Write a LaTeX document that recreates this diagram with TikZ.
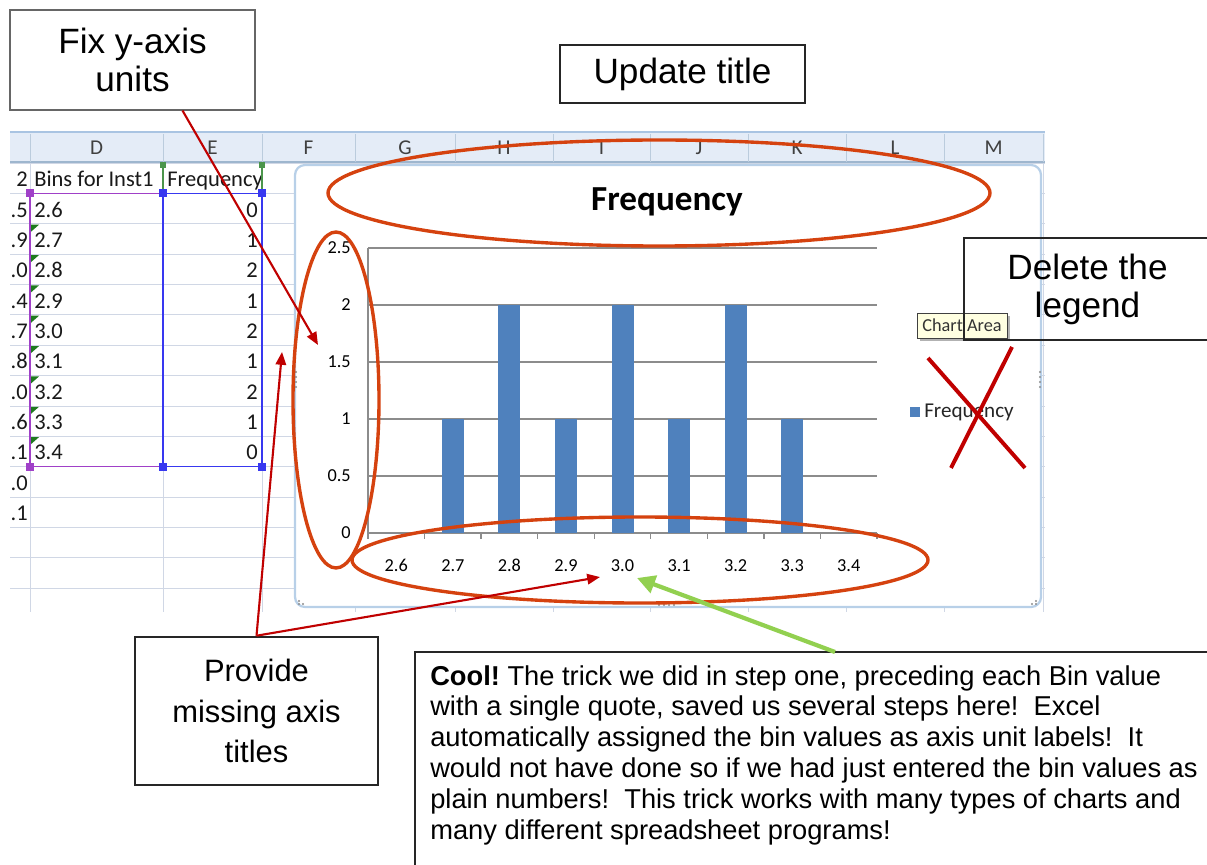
\documentclass[tikz,border=0pt]{standalone}
\usepackage{fontspec}
\setmainfont{Liberation Sans}
\newfontfamily\sheetfont{Carlito}
\usetikzlibrary{arrows.meta,positioning,calc}
\definecolor{arrowred}{HTML}{C00000}
\definecolor{ringred}{HTML}{D5420F}
\definecolor{tipgreen}{HTML}{92D050}
\definecolor{barblue}{HTML}{4F81BD}
\definecolor{cellgrid}{HTML}{D0D7E5}
\definecolor{headfill}{HTML}{E4ECF7}
\definecolor{headline}{HTML}{9EB6CE}
\definecolor{headtop}{HTML}{A9C4E2}
\definecolor{chartframe}{HTML}{B8D0E8}
\definecolor{tipfill}{HTML}{FFFFE1}
\definecolor{selpurple}{HTML}{A040C8}
\definecolor{selblue}{HTML}{3838F0}
\definecolor{markgreen}{HTML}{1E7A1E}
\begin{document}
\frenchspacing
\begin{tikzpicture}
  [x=0.025cm, y=-0.025cm,
   noteN/.style={draw=black!85, align=center, inner sep=0pt,
                 font=\fontsize{25}{27}\selectfont},
   cellT/.style={inner sep=0pt, text height=11pt, text depth=0pt,
                 font=\sheetfont\fontsize{16}{16}\selectfont, text=black!90},
   colT/.style={inner sep=0pt, font=\sheetfont\fontsize{15}{15}\selectfont, text=black!75},
   tickT/.style={inner sep=0pt, text height=8.5pt, text depth=0pt,
                 font=\sheetfont\fontsize{13}{13}\selectfont, text=black},
   redA/.style={draw=arrowred, line width=1.5pt, -{Triangle[length=0.32cm,width=0.26cm]}},
   greenA/.style={draw=tipgreen, line width=3pt, -{Triangle[length=0.45cm,width=0.45cm]}},
   ring/.style={draw=ringred, line width=2.4pt},
   chartGrid/.style={draw=black!45, line width=0.9pt}]

  \path[use as bounding box] (0,0) rectangle (1207,865);
  \clip (0,0) rectangle (1207,865);
  \fill[white] (0,0) rectangle (1207,865);

  % sheet
  \fill[headfill] (10,132) rectangle (1045,162);
  \draw[headtop, line width=1pt] (10,132) -- (1045,132);
  \draw[headline, line width=1pt] (10,162) -- (1045,162);
  \foreach \x in {30,163,262,355,455,553,650,748,846,944,1043}
    \draw[headline!70] (\x,134) -- (\x,162);
  \foreach \c/\x in {D/96.5,E/212.5,F/308.5,G/405,H/504,I/601.5,J/699,K/797,L/895,M/993.5}
    \node[colT] (col\c) at (\x,148) {\c};

  \foreach \k in {0,...,14}
    \draw[cellgrid] (10,{163+30.35*\k}) -- (1045,{163+30.35*\k});
  \foreach \x in {30,163,262,355,455,553,650,748,846,944,1043}
    \draw[cellgrid] (\x,163) -- (\x,612);

  \node[cellT, anchor=east] (a0) at (28,179) {2};
  \node[cellT, anchor=west] (binHead) at (34,179) {Bins for Inst1};
  \node[cellT, anchor=west] (freqHead) at (167,179) {Frequency};
  \foreach \k/\a/\b/\f in {1/.5/2.6/0,2/.9/2.7/1,3/.0/2.8/2,4/.4/2.9/1,5/.7/3.0/2,
                           6/.8/3.1/1,7/.0/3.2/2,8/.6/3.3/1,9/.1/3.4/0}
  {
    \node[cellT, anchor=east] (a\k) at (28,{179+30.35*\k}) {\a};
    \node[cellT, anchor=west] (b\k) at (34,{179+30.35*\k}) {\b};
    \node[cellT, anchor=east] (f\k) at (258,{179+30.35*\k}) {\f};
  }
  \node[cellT, anchor=east] (a10) at (28,{179+30.35*10}) {.0};
  \node[cellT, anchor=east] (a11) at (28,{179+30.35*11}) {.1};

  % selection marks
  \foreach \k in {2,...,9}
    \fill[markgreen] (31,{164+30.35*\k}) -- ++(8,0) -- ++(-8,7) -- cycle;
  \draw[selpurple, line width=1.1pt] (30,193.4) rectangle (163,466.5);
  \draw[selblue, line width=1.1pt] (163,193.4) rectangle (262,466.5);
  \draw[markgreen!80, line width=1.1pt] (163,165) -- (163,193) (262,165) -- (262,193);
  \foreach \p in {(163,165),(262,165)}
    \fill[markgreen!80] \p +(-3,-3) rectangle +(3,3);
  \foreach \p in {(30,193.4),(30,466.5)}
    \fill[selpurple] \p +(-4,-4) rectangle +(4,4);
  \foreach \p in {(163,193.4),(163,466.5),(262,193.4),(262,466.5)}
    \fill[selblue] \p +(-4,-4) rectangle +(4,4);

  % chart
  \draw[chartframe, line width=1.6pt, fill=white, rounded corners=0.25cm]
    (295,165) rectangle (1041,607);
  \node[inner sep=0pt, font=\sheetfont\bfseries\fontsize{25}{25}\selectfont] (chartTitle) at (667,202) {Frequency};
  \foreach \v/\y in {0/533,0.5/476,1/419,1.5/362,2/305,2.5/248}
  {
    \draw[chartGrid] (368,\y) -- (877,\y);
    \node[tickT, anchor=east] (y\y) at (351,\y) {\v};
  }
  \draw[chartGrid] (368,248) -- (368,539);
  \foreach \i in {0,...,9}
    \draw[chartGrid] ({368+56.56*\i},533) -- ({368+56.56*\i},539);
  \foreach \i/\h/\t in {0/0/2.6,1/1/2.7,2/2/2.8,3/1/2.9,4/2/3.0,5/1/3.1,6/2/3.2,7/1/3.3,8/0/3.4}
  {
    \fill[barblue] ({368+56.56*(\i+0.5)-11},{533-114*\h}) rectangle ({368+56.56*(\i+0.5)+11},533);
    \node[tickT] (x\i) at ({368+56.56*(\i+0.5)},566) {\t};
  }
  \fill[barblue] (910,407) rectangle (920,417);
  \node[inner sep=0pt, anchor=west, font=\sheetfont\fontsize{15}{15}\selectfont, text=black!85]
    (legendTxt) at (924,412) {Frequency};
  \foreach \d in {-8,-3,2,7}
  {
    \fill[black!45] (296,{380+\d}) circle (1.2);
    \fill[black!45] (1040,{380+\d}) circle (1.2);
    \fill[black!45] ({667+\d},605) circle (1.2);
  }
  \foreach \p in {(299,601),(303,604),(299,604),(1036,601),(1032,604),(1036,604)}
    \fill[black!45] \p circle (1.1);

  % tooltip and crossed legend
  \fill[black!30] (920,316) rectangle (1010,341);
  \node[draw=black!75, fill=tipfill, inner sep=0pt, minimum width=2.25cm, minimum height=0.625cm,
        font=\sheetfont\fontsize{13}{13}\selectfont, text=black!80] (tipN) at (962,325.5) {Chart Area};
  \draw[arrowred, line width=2.8pt] (928,358) -- (1025,468);
  \draw[arrowred, line width=2.8pt] (1012,347) -- (951,468);

  % rings
  \draw[ring] (659,193) ellipse [x radius=331, y radius=53];
  \draw[ring] (336,400) ellipse [x radius=43, y radius=168];
  \draw[ring] (640,560) ellipse [x radius=288, y radius=43];

  % notes
  \node[noteN, fill=white, draw=black!60, line width=0.8pt, minimum width=6.125cm, minimum height=2.5cm]
    (fixN) at (132.5,60) {Fix y-axis\\units};
  \node[noteN, fill=white, line width=1.8pt, minimum width=6.125cm, minimum height=1.45cm]
    (titleN) at (682.5,74) {Update title};
  \node[noteN, line width=1.1pt, minimum width=6.175cm, minimum height=2.55cm]
    (legendN) at (1087.5,289) {Delete the\\legend};
  \node[noteN, fill=white, line width=1.8pt, minimum width=6.075cm, minimum height=3.7cm,
        font=\fontsize{22}{29}\selectfont]
    (axisN) at (256.5,711) {Provide\\missing axis\\titles};

  \draw[draw=black!85, line width=1.5pt, fill=white] (415,652) rectangle (1225,885);
  \node[inner sep=0pt, anchor=north west, align=left, font=\fontsize{19.4}{22}\selectfont]
    (coolN) at (430,665)
    {\textbf{Cool!} The trick we did in step one, preceding each Bin value\\
     with a single quote, saved us several steps here!\ \ Excel\\
     automatically assigned the bin values as axis unit labels!\ \ It\\
     would not have done so if we had just entered the bin values as\\
     plain numbers!\ \ This trick works with many types of charts and\\
     many different spreadsheet programs!};

  \coordinate (yTip) at (318,345);
  \coordinate (axTipY) at (282,352);
  \coordinate (axTipX) at (600,577);
  \coordinate (xTip) at (637,578);
  \coordinate (coolTop) at (835,652);

  \draw[redA] ($(fixN.south)+(50,0)$) -- (yTip);
  \draw[redA] (axisN.north) -- (axTipY);
  \draw[redA] (axisN.north) -- (axTipX);
  \draw[greenA] (coolTop) -- (xTip);
\end{tikzpicture}
\end{document}
